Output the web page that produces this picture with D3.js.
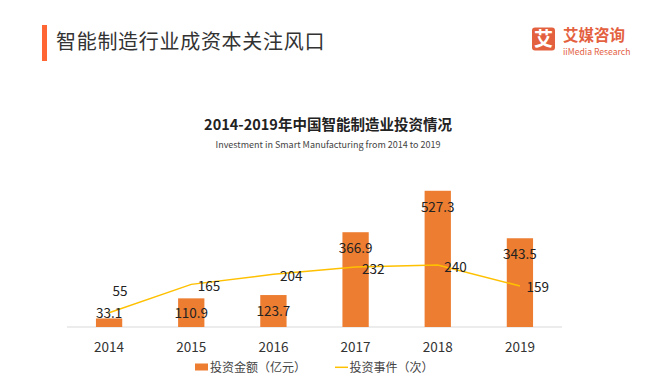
<!DOCTYPE html>
<html>
<head>
<meta charset="utf-8">
<script src="https://d3js.org/d3.v7.min.js"></script>
<style>
body { margin: 0; background: #fff; }
svg { display: block; font-family: "Noto Sans CJK SC", "Noto Sans", sans-serif; }
</style>
</head>
<body>
<div id="chart"></div>
<script>
// data
var years = ["2014", "2015", "2016", "2017", "2018", "2019"];
var amount = [33.1, 110.9, 123.7, 366.9, 527.3, 343.5];   // 投资金额（亿元）
var events = [55, 165, 204, 232, 240, 159];              // 投资事件（次）
var legendNames = ["投资金额（亿元）", "投资事件（次）"];

var W = 662, H = 386;
var barColor = "#ED7D31", lineColor = "#FFC000";

var svg = d3.select("#chart").append("svg")
    .attr("width", W).attr("height", H);

// page header
svg.append("rect").attr("x", 42).attr("y", 25).attr("width", 5).attr("height", 36)
    .attr("fill", "#FF6633");
svg.append("text").attr("x", 56).attr("y", 48.5)
    .attr("font-size", 20).attr("fill", "#333").attr("letter-spacing", 0.7)
    .text("智能制造行业成资本关注风口");

// logo
var logo = svg.append("g");
logo.append("rect").attr("x", 532).attr("y", 27.5).attr("width", 23).attr("height", 23)
    .attr("rx", 3).attr("fill", "#E4613F");
logo.append("text").attr("x", 543.5).attr("y", 45.5).attr("text-anchor", "middle")
    .attr("font-size", 19).attr("font-weight", "bold").attr("fill", "#fff").text("艾");
logo.append("text").attr("x", 563).attr("y", 40.5)
    .attr("font-size", 15.5).attr("font-weight", "bold").attr("fill", "#E4613F").text("艾媒咨询");
logo.append("text").attr("x", 563).attr("y", 55)
    .attr("font-size", 8.6).attr("fill", "#E4613F").text("iiMedia Research");

// chart titles
svg.append("text").attr("x", 328).attr("y", 129.5).attr("text-anchor", "middle")
    .attr("font-size", 14.5).attr("font-weight", "bold").attr("fill", "#222")
    .text("2014-2019年中国智能制造业投资情况");
svg.append("text").attr("x", 328).attr("y", 148).attr("text-anchor", "middle")
    .attr("font-size", 9).attr("fill", "#444")
    .text("Investment in Smart Manufacturing from 2014 to 2019");

// scales
var x = d3.scaleBand().domain(years).range([68, 561]).paddingInner(0.68).paddingOuter(0.34);
var y = d3.scaleLinear().domain([0, 600]).range([327, 172]);
var cx = function(d) { return x(d) + x.bandwidth() / 2; };

// baseline
svg.append("line").attr("x1", 67).attr("x2", 562)
    .attr("y1", y(0)).attr("y2", y(0))
    .attr("stroke", "#D9D9D9").attr("stroke-width", 1);

// bars
svg.selectAll(".bar").data(amount).join("rect")
    .attr("class", "bar")
    .attr("x", function(d, i) { return x(years[i]); })
    .attr("y", function(d) { return y(d); })
    .attr("width", x.bandwidth())
    .attr("height", function(d) { return y(0) - y(d); })
    .attr("fill", barColor);

// line
var line = d3.line()
    .x(function(d, i) { return cx(years[i]); })
    .y(function(d) { return y(d); });
svg.append("path").datum(events)
    .attr("d", line)
    .attr("fill", "none").attr("stroke", lineColor).attr("stroke-width", 1.5);

// bar labels
svg.selectAll(".blab").data(amount).join("text")
    .attr("class", "blab")
    .attr("x", function(d, i) { return cx(years[i]); })
    .attr("y", function(d) { return Math.min(y(d) + 21, y(0) - 9.5); })
    .attr("text-anchor", "middle").attr("font-size", 13.5).attr("fill", "#222")
    .text(function(d) { return d; });

// line labels (first one sits above the point)
svg.selectAll(".llab").data(events).join("text")
    .attr("class", "llab")
    .attr("x", function(d, i) { return cx(years[i]) + (i === 0 ? 3.5 : 6.5); })
    .attr("y", function(d, i) { return y(d) + (i === 0 ? -17 : 6.5); })
    .attr("font-size", 13.5).attr("fill", "#222")
    .text(function(d) { return d; });

// x axis labels
svg.selectAll(".xlab").data(years).join("text")
    .attr("class", "xlab")
    .attr("x", function(d) { return cx(d); })
    .attr("y", 351.5)
    .attr("text-anchor", "middle").attr("font-size", 13.5).attr("fill", "#333")
    .text(function(d) { return d; });

// legend
var lg = svg.append("g");
lg.append("rect").attr("x", 195).attr("y", 363.5).attr("width", 13).attr("height", 7)
    .attr("fill", barColor);
lg.append("text").attr("x", 210).attr("y", 371.5).attr("font-size", 12).attr("fill", "#444")
    .text(legendNames[0]);
lg.append("line").attr("x1", 335).attr("x2", 348).attr("y1", 367.3).attr("y2", 367.3)
    .attr("stroke", lineColor).attr("stroke-width", 1.5);
lg.append("text").attr("x", 349.5).attr("y", 371.5).attr("font-size", 12).attr("fill", "#444")
    .text(legendNames[1]);
</script>
</body>
</html>
